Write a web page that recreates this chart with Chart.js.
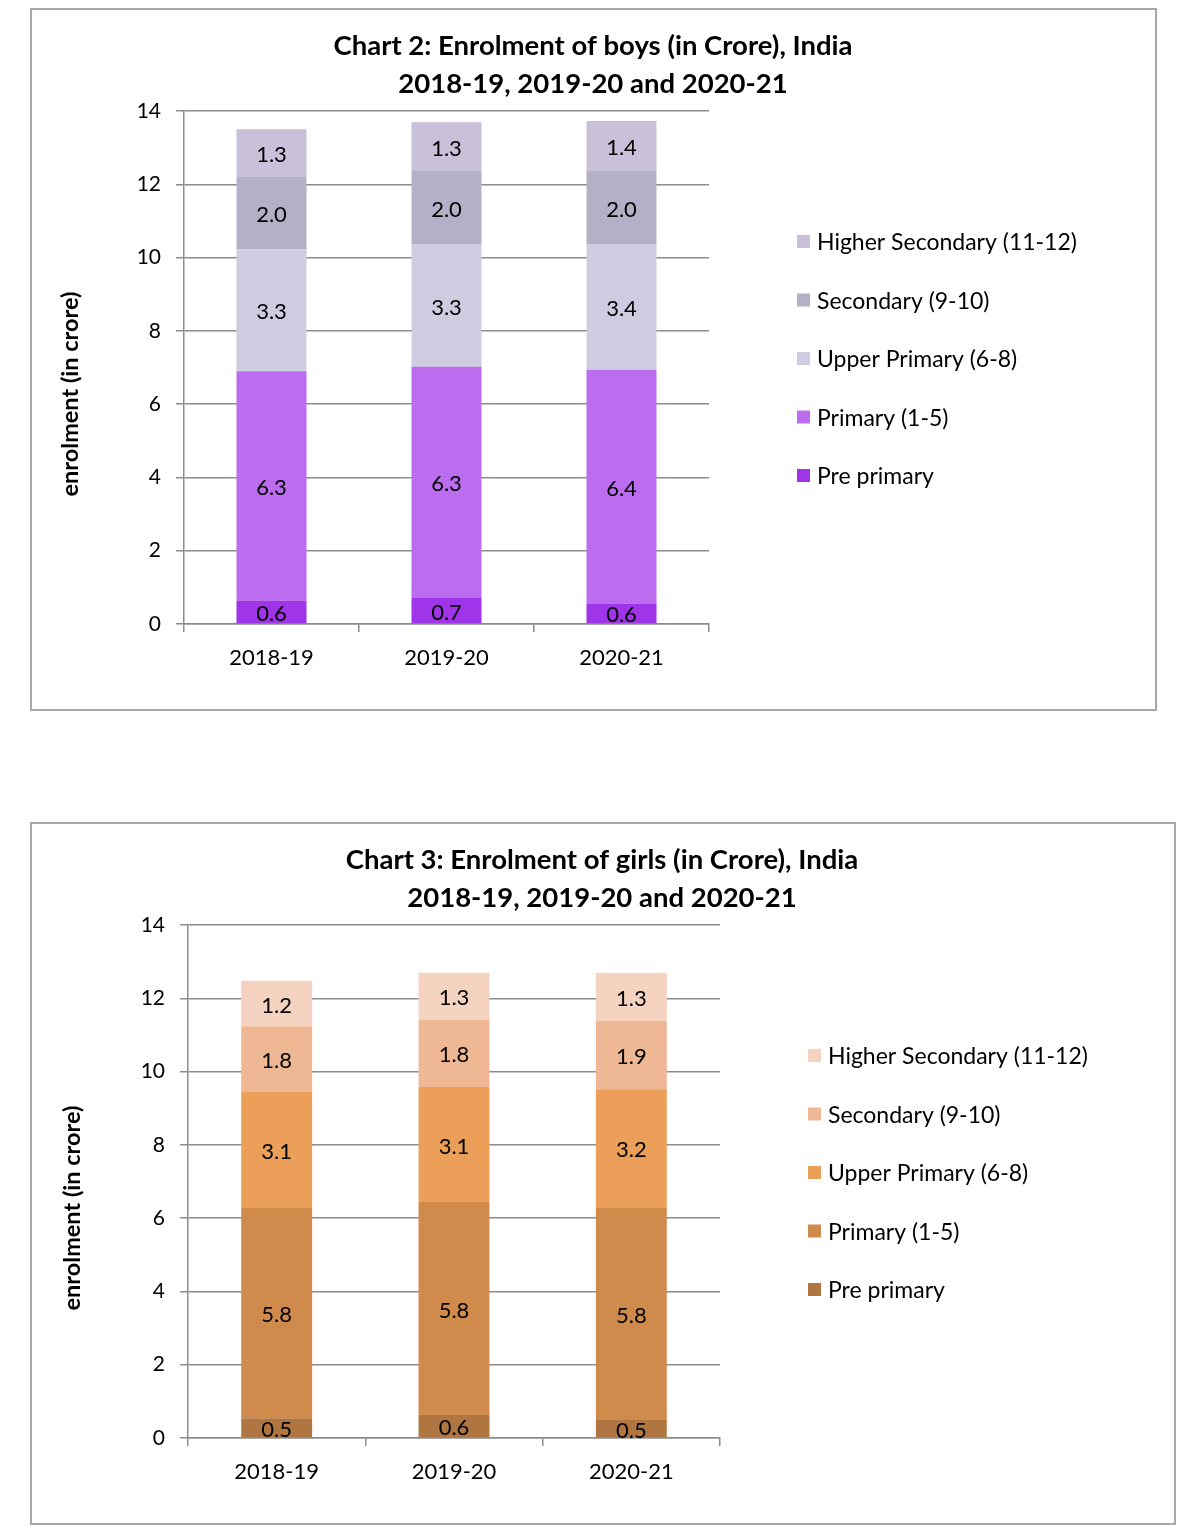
<!DOCTYPE html>
<html>
<head>
<meta charset="utf-8">
<script src="https://cdn.jsdelivr.net/npm/chart.js@4"></script>
<style>
  body { margin: 0; background: #fff; }
  .box { position: absolute; border: 2px solid #a8a8a8; background: #fff; }
  .box canvas { display: block; }
</style>
</head>
<body>
<div class="box" style="left:30px; top:8px; width:1123px; height:699px;">
  <canvas id="boysChart" width="1123" height="699"></canvas>
</div>
<div class="box" style="left:30px; top:822px; width:1142px; height:699px;">
  <canvas id="girlsChart" width="1142" height="699"></canvas>
</div>
<script>
const years = ["2018-19", "2019-20", "2020-21"];
const levels = ["Pre primary", "Primary (1-5)", "Upper Primary (6-8)", "Secondary (9-10)", "Higher Secondary (11-12)"];

// boys, crore
const boysPrePrimary = [0.64, 0.71, 0.56];
const boysPrimary = [6.26, 6.31, 6.38];
const boysUpperPrimary = [3.33, 3.34, 3.42];
const boysSecondary = [1.97, 2.00, 2.00];
const boysHigherSecondary = [1.30, 1.33, 1.37];

// girls, crore
const girlsPrePrimary = [0.54, 0.63, 0.49];
const girlsPrimary = [5.76, 5.81, 5.81];
const girlsUpperPrimary = [3.14, 3.14, 3.22];
const girlsSecondary = [1.80, 1.84, 1.86];
const girlsHigherSecondary = [1.24, 1.28, 1.31];

const boysColors = ["#a034e8", "#bb6cef", "#cdcce0", "#b3b1c7", "#c9c1d9"];
const girlsColors = ["#b07642", "#d08a4c", "#eb9f58", "#efb895", "#f5d3c0"];

const FONT = "Lato";

/* titles, axis title, legend and value labels */
const overlay = {
    id: "overlay",
    afterDatasetsDraw(chart) {
        const ctx = chart.ctx;
        ctx.save();
        ctx.font = "22px " + FONT;
        ctx.fillStyle = "#000";
        ctx.textAlign = "center";
        ctx.textBaseline = "middle";
        chart.data.datasets.forEach((ds, i) => {
            const meta = chart.getDatasetMeta(i);
            meta.data.forEach((bar, j) => {
                const y = (bar.y + bar.base) / 2;
                ctx.fillText(ds.data[j].toFixed(1), bar.x, y + 2);
            });
        });
        ctx.restore();
    },
    afterDraw(chart, args, opts) {
        const ctx = chart.ctx;
        ctx.save();
        ctx.fillStyle = "#000";
        ctx.textAlign = "center";
        ctx.textBaseline = "middle";

        /* chart title */
        ctx.font = "bold 27.5px " + FONT;
        opts.title.forEach((line, k) => {
            ctx.fillText(line, opts.titleX, opts.titleY + k * 38);
        });

        /* y axis title */
        ctx.save();
        ctx.translate(opts.yTitleX, opts.yTitleY);
        ctx.rotate(-Math.PI / 2);
        ctx.font = "bold 23.5px " + FONT;
        ctx.fillText("enrolment (in crore)", 0, 0);
        ctx.restore();

        /* legend, top item is last series */
        ctx.font = "23px " + FONT;
        ctx.textAlign = "left";
        const n = chart.data.datasets.length;
        for (let k = 0; k < n; k++) {
            const ds = chart.data.datasets[n - 1 - k];
            const y = opts.legendY + k * opts.legendGap;
            ctx.fillStyle = ds.backgroundColor;
            ctx.fillRect(opts.legendX, y - 7, 13, 13);
            ctx.fillStyle = "#000";
            ctx.fillText(ds.label, opts.legendX + 20, y + 1);
        }
        ctx.restore();
    }
};

function drawChart(id, series, colors, title, cfg) {
    const ctx = document.getElementById(id).getContext("2d");
    return new Chart(ctx, {
        type: "bar",
        data: {
            labels: years,
            datasets: series.map((vals, i) => ({
                label: levels[i],
                data: vals,
                backgroundColor: colors[i],
                borderWidth: 0
            }))
        },
        options: {
            responsive: false,
            animation: false,
            layout: {
                padding: { left: 0, top: 101, right: cfg.padRight, bottom: 0 }
            },
            datasets: {
                bar: { barPercentage: 0.4, categoryPercentage: 1 }
            },
            scales: {
                x: {
                    stacked: true,
                    grid: {
                        drawOnChartArea: false,
                        color: "#8c8c8c",
                        lineWidth: 1.5,
                        tickLength: 8
                    },
                    border: { color: "#8c8c8c", width: 1.5 },
                    ticks: {
                        color: "#000",
                        padding: 13,
                        font: { family: FONT, size: 22 }
                    },
                    afterFit(scale) { scale.height = 85; }
                },
                y: {
                    stacked: true,
                    min: 0,
                    max: 14,
                    ticks: {
                        stepSize: 2,
                        color: "#000",
                        padding: 15,
                        font: { family: FONT, size: 21 }
                    },
                    grid: {
                        color: "#8c8c8c",
                        lineWidth: 1.5,
                        tickLength: 8
                    },
                    border: { color: "#8c8c8c", width: 1.5 },
                    afterFit(scale) { scale.width = cfg.yWidth; }
                }
            },
            plugins: {
                legend: { display: false },
                tooltip: { enabled: false },
                overlay: {
                    title: title,
                    titleX: cfg.titleX,
                    titleY: 36,
                    yTitleX: cfg.yTitleX,
                    yTitleY: 384,
                    legendX: cfg.legendX,
                    legendY: 232,
                    legendGap: 58.5
                }
            }
        },
        plugins: [overlay]
    });
}

drawChart("boysChart",
    [boysPrePrimary, boysPrimary, boysUpperPrimary, boysSecondary, boysHigherSecondary],
    boysColors,
    ["Chart 2: Enrolment of boys (in Crore), India", "2018-19, 2019-20 and 2020-21"],
    { padRight: 446, yWidth: 152, titleX: 561, yTitleX: 38, legendX: 765 });

drawChart("girlsChart",
    [girlsPrePrimary, girlsPrimary, girlsUpperPrimary, girlsSecondary, girlsHigherSecondary],
    girlsColors,
    ["Chart 3: Enrolment of girls (in Crore), India", "2018-19, 2019-20 and 2020-21"],
    { padRight: 454, yWidth: 156, titleX: 570, yTitleX: 40, legendX: 776 });
</script>
</body>
</html>
